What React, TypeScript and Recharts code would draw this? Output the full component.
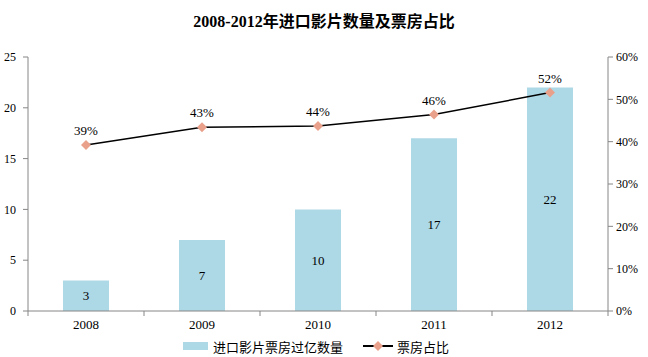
import { ComposedChart, Bar, Line, XAxis, YAxis, LabelList, Legend } from "recharts";

const years = ["2008", "2009", "2010", "2011", "2012"];
const filmCounts = [3, 7, 10, 17, 22];
const boxShares = [39.2, 43.4, 43.7, 46.4, 51.6];
const leftTicks = [0, 5, 10, 15, 20, 25];
const rightTicks = [0, 10, 20, 30, 40, 50, 60];

const data = years.map((year, i) => ({
  year,
  count: filmCounts[i],
  share: boxShares[i],
}));

const SERIF = '"Liberation Serif", "Times New Roman", serif';
const CJK = '"Noto Sans CJK SC", "Liberation Serif", serif';
const AXIS = "#868686";
const BAR = "#ADD8E6";
const DOT = "#E9A18C";

function Diamond(props: any) {
  const { cx, cy } = props;
  if (cx == null || cy == null) return null;
  const r = 5;
  return (
    <polygon
      points={`${cx},${cy - r} ${cx + r},${cy} ${cx},${cy + r} ${cx - r},${cy}`}
      fill={DOT}
      stroke="none"
    />
  );
}

function YearTick(props: any) {
  const { x, y, payload, index } = props;
  const half = payload?.offset ?? 58;
  return (
    <g>
      {index === 0 && <line x1={x - half} x2={x - half} y1={y} y2={y + 5} stroke={AXIS} />}
      <line x1={x + half} x2={x + half} y1={y} y2={y + 5} stroke={AXIS} />
      <text x={x} y={y + 18} textAnchor="middle" fontSize={13} fontFamily={SERIF} fill="#000">
        {payload.value}
      </text>
    </g>
  );
}

function LegendBox() {
  return (
    <div
      style={{
        display: "flex",
        alignItems: "center",
        paddingLeft: 183,
        height: 22,
        fontFamily: CJK,
        fontSize: 13,
        color: "#000",
      }}
    >
      <span style={{ display: "inline-block", width: 25, height: 8, background: BAR, marginRight: 5 }} />
      <span>进口影片票房过亿数量</span>
      <svg width={30} height={10} style={{ marginLeft: 20, marginRight: 4 }}>
        <line x1={0} x2={30} y1={5} y2={5} stroke="#000" strokeWidth={2} />
        <polygon points="15,0 20,5 15,10 10,5" fill={DOT} />
      </svg>
      <span>票房占比</span>
    </div>
  );
}

export default function App() {
  return (
    <div style={{ position: "absolute", left: 0, top: 0, width: 648, height: 357, background: "#fff" }}>
      <div
        style={{
          position: "absolute",
          top: 8,
          width: 648,
          textAlign: "center",
          fontFamily: '"Liberation Serif", "Noto Sans CJK SC", serif',
          fontWeight: "bold",
          fontSize: 16,
        }}
      >
        2008-2012年进口影片数量及票房占比
      </div>
      <ComposedChart width={648} height={357} data={data} margin={{ top: 57, right: 0, left: 0, bottom: 0 }}>
        <XAxis
          dataKey="year"
          height={24}
          tickLine={false}
          tickSize={0}
          tickMargin={0}
          stroke={AXIS}
          tick={<YearTick />}
        />
        <YAxis
          yAxisId="left"
          width={28}
          domain={[0, 25]}
          ticks={leftTicks}
          tickSize={5}
          tickMargin={7}
          stroke={AXIS}
          tick={{ fill: "#000", fontSize: 12, fontFamily: SERIF }}
        />
        <YAxis
          yAxisId="right"
          orientation="right"
          width={40}
          domain={[0, 60]}
          ticks={rightTicks}
          tickSize={5}
          tickMargin={3}
          stroke={AXIS}
          tickFormatter={(v) => `${v}%`}
          tick={{ fill: "#000", fontSize: 12, fontFamily: SERIF }}
        />
        <Legend verticalAlign="bottom" height={22} content={<LegendBox />} />
        <Bar yAxisId="left" dataKey="count" fill={BAR} barSize={46} isAnimationActive={false}>
          <LabelList
            dataKey="count"
            position="center"
            style={{ fill: "#000", fontSize: 13, fontFamily: SERIF }}
          />
        </Bar>
        <Line
          yAxisId="right"
          dataKey="share"
          stroke="#000"
          strokeWidth={1.5}
          dot={<Diamond />}
          activeDot={false}
          isAnimationActive={false}
        >
          <LabelList
            dataKey="share"
            position="top"
            offset={10}
            formatter={(v: any) => `${Math.round(v)}%`}
            style={{ fill: "#000", fontSize: 13, fontFamily: SERIF }}
          />
        </Line>
      </ComposedChart>
    </div>
  );
}
